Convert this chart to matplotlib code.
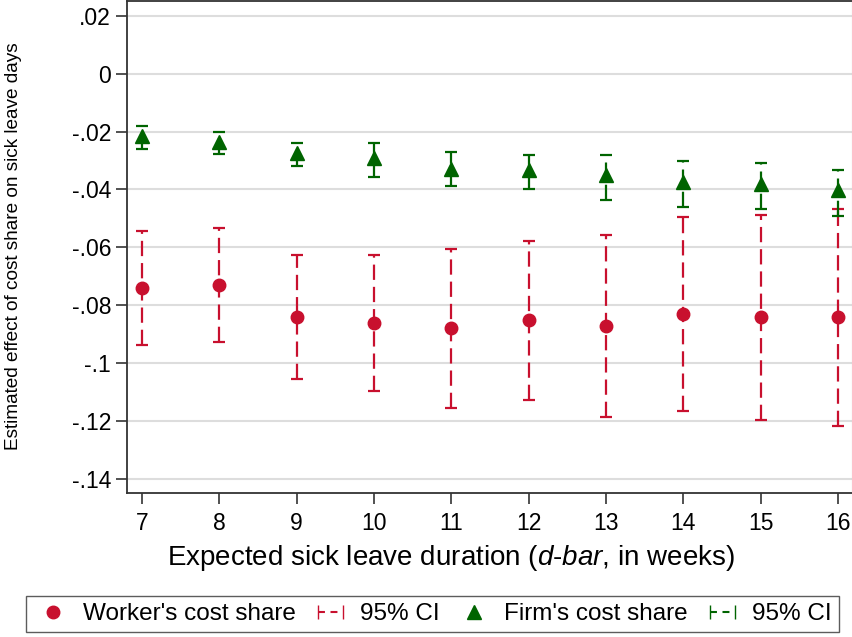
import numpy as np
import matplotlib
matplotlib.use("Agg")
import matplotlib.pyplot as plt
from matplotlib.lines import Line2D
from matplotlib.legend_handler import HandlerLine2D

plt.rcParams['font.family'] = ['Liberation Sans', 'DejaVu Sans']
plt.rcParams['mathtext.fontset'] = 'custom'
plt.rcParams['mathtext.it'] = 'Liberation Sans:italic'
plt.rcParams['mathtext.rm'] = 'Liberation Sans'
plt.rcParams['lines.scale_dashes'] = False

# expected sick leave duration (weeks)
weeks = [7, 8, 9, 10, 11, 12, 13, 14, 15, 16]

# worker's cost share: estimate, upper and lower 95% CI
worker_est = [-0.0739, -0.0730, -0.0839, -0.0860, -0.0880, -0.0849, -0.0872, -0.0830, -0.0839, -0.0839]
worker_hi = [-0.0545, -0.0533, -0.0626, -0.0626, -0.0606, -0.0577, -0.0557, -0.0496, -0.0487, -0.0467]
worker_lo = [-0.0938, -0.0926, -0.1056, -0.1097, -0.1155, -0.1126, -0.1184, -0.1165, -0.1195, -0.1215]

# firm's cost share: estimate, upper and lower 95% CI
firm_est = [-0.0217, -0.0235, -0.0273, -0.0293, -0.0328, -0.0334, -0.0351, -0.0375, -0.0382, -0.0403]
firm_hi = [-0.0180, -0.0200, -0.0239, -0.0239, -0.0270, -0.0281, -0.0281, -0.0301, -0.0310, -0.0332]
firm_lo = [-0.0259, -0.0277, -0.0319, -0.0357, -0.0388, -0.0399, -0.0438, -0.0459, -0.0467, -0.0490]

yticks = [0.02, 0, -0.02, -0.04, -0.06, -0.08, -0.10, -0.12, -0.14]
yticklabels = ['.02', '0', '-.02', '-.04', '-.06', '-.08', '-.1', '-.12', '-.14']

red = '#C8102E'
green = '#006400'
dash = (0, (11, 5))

fig = plt.figure(figsize=(8.53, 6.37), dpi=100)
ax = fig.add_axes([127/853, (637-493)/637, (852-127)/853, 493/637 - 0.001])


def ci(est, lo, hi, color):
    est = np.array(est)
    yerr = [est - np.array(lo), np.array(hi) - est]
    eb = ax.errorbar(weeks, est, yerr=yerr, fmt='none', ecolor=color,
                     elinewidth=1.6, capsize=4, capthick=1.6, zorder=3)
    eb[2][0].set_linestyle(dash)


ci(worker_est, worker_lo, worker_hi, red)
ci(firm_est, firm_lo, firm_hi, green)
ax.plot(weeks, worker_est, 'o', color=red, markersize=9, zorder=4)
ax.plot(weeks, firm_est, '^', color=green, markersize=10, zorder=4)

ax.set_xlim(6.806, 16.18)
ax.set_ylim(-0.1448, 0.0252)
ax.set_xticks(weeks)
ax.set_yticks(yticks)
ax.set_yticklabels(yticklabels)
ax.tick_params(axis='both', labelsize=16.5, length=8, width=1.2, color='#333333')
ax.tick_params(axis='x', pad=6)
ax.yaxis.grid(True, color='#DDDDDD', linewidth=1.5)
ax.set_axisbelow(True)
for s in ['left', 'bottom', 'top']:
    ax.spines[s].set_color('#333333')
    ax.spines[s].set_linewidth(1.3)
ax.spines['right'].set_color('#BBBBBB')

fig.text(14/853, 1 - 246/637, 'Estimated effect of cost share on sick leave days',
         fontsize=13.7, rotation=90, ha='center', va='center')
fig.text(451/853, 1 - 558/637,
         r'Expected sick leave duration ($\mathit{d}$-$\mathit{bar}$, in weeks)',
         fontsize=20, ha='center', va='center')

handles = [
    Line2D([], [], marker='o', color=red, linestyle='none', markersize=9),
    Line2D([], [], marker='|', color=red, linestyle=(0, (5, 4)), linewidth=1.5, markersize=10),
    Line2D([], [], marker='^', color=green, linestyle='none', markersize=10),
    Line2D([], [], marker='|', color=green, linestyle=(0, (5, 4)), linewidth=1.5, markersize=10),
]
labels = ["Worker's cost share", '95% CI', "Firm's cost share", '95% CI']
hmap = {handles[1]: HandlerLine2D(numpoints=2), handles[3]: HandlerLine2D(numpoints=2),
        handles[0]: HandlerLine2D(numpoints=1), handles[2]: HandlerLine2D(numpoints=1)}
leg = fig.legend(handles, labels, handler_map=hmap, loc='center', ncol=4,
                 bbox_to_anchor=(432.5/853, 1 - 614/637), fontsize=17.5,
                 frameon=True, fancybox=False, edgecolor='#333333',
                 handlelength=1.65, handletextpad=0.4, columnspacing=0.6,
                 borderpad=0.3, borderaxespad=0)
leg.get_frame().set_linewidth(1.0)

fig.savefig('out.png', dpi=100)
